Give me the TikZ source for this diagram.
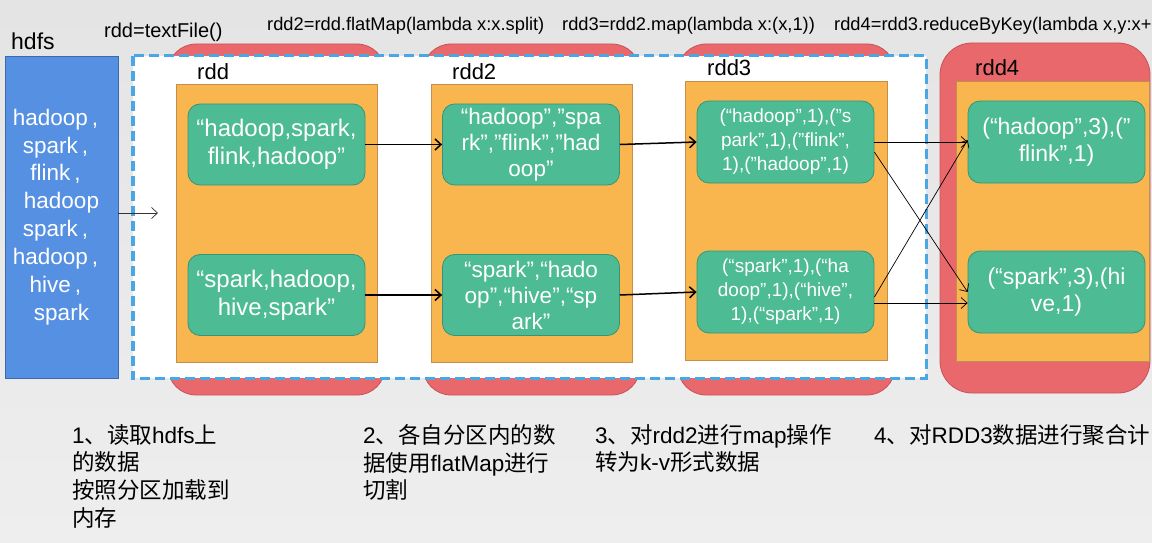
\documentclass[tikz,border=0pt]{standalone}
\usepackage{fontspec}
\setmainfont{Liberation Sans}
\newfontfamily\cjk{Noto Sans CJK SC}
\usetikzlibrary{arrows.meta}
\definecolor{bgtop}{RGB}{228,228,228}
\definecolor{bgbot}{RGB}{238,238,238}
\definecolor{hblue}{RGB}{86,144,226}
\definecolor{hblueb}{RGB}{60,105,175}
\definecolor{dblue}{RGB}{72,167,228}
\definecolor{pred}{RGB}{232,104,108}
\definecolor{predb}{RGB}{200,82,88}
\definecolor{porange}{RGB}{250,182,78}
\definecolor{porangeb}{RGB}{196,142,78}
\definecolor{pgreen}{RGB}{77,187,147}
\definecolor{pgreenb}{RGB}{56,148,116}
\newcommand{\fc}{\kern4pt,\kern12pt}
\newcommand{\zh}[1]{{\cjk #1}}
\tikzset{
  redbox/.style={draw=predb, fill=pred, line width=0.8pt, rounded corners=28pt, inner sep=0pt},
  orbox/.style={draw=porangeb, fill=porange, line width=0.8pt, inner sep=0pt, minimum width=201pt, minimum height=278pt},
  grbox/.style={draw=pgreenb, fill=pgreen, line width=0.8pt, rounded corners=12pt, inner sep=0pt,
     minimum width=177pt, minimum height=81pt, text=white, align=center},
  lbl/.style={anchor=west, inner sep=0pt, font=\fontsize{22}{26}\selectfont},
  toplbl/.style={anchor=west, inner sep=0pt, font=\fontsize{18.3}{22}\selectfont},
  note/.style={anchor=north west, inner sep=0pt, align=left, font=\fontsize{22.5}{27.8}\selectfont},
  bigarr/.style={line width=1.5pt, -{Straight Barb[length=6pt,width=11pt]}},
  thinarr/.style={line width=0.7pt, -{Straight Barb[length=6pt,width=11pt]}},
  memline/.style={draw=dblue, line width=3.4pt, dash pattern=on 10pt off 5pt},
}
\begin{document}
\begin{tikzpicture}[x=1pt,y=-1pt]
\useasboundingbox (0,0) rectangle (1152,543);
\clip (0,0) rectangle (1152,543);
\shade[top color=bgtop, bottom color=bgbot] (0,0) rectangle (1152,543);

% red partition shapes
\node[redbox, minimum width=217pt, minimum height=351pt] (redA) at (276.5,219.5) {};
\node[redbox, minimum width=217pt, minimum height=351pt] (redB) at (531.5,219.5) {};
\node[redbox, minimum width=217pt, minimum height=351pt] (redC) at (786.5,219.5) {};
\node[redbox, minimum width=210pt, minimum height=350pt, rounded corners=32pt] (redD) at (1045,218) {};

% dashed memory region
\node[fill=white, inner sep=0pt, minimum width=793pt, minimum height=322pt] (mem) at (529.5,217) {};
\draw[memline] (mem.north west) rectangle (mem.south east);

% hdfs
\node[anchor=west, inner sep=0pt, font=\fontsize{23}{26}\selectfont] (hdfslbl) at (11,41) {hdfs};
\node[draw=hblueb, fill=hblue, line width=0.8pt, inner sep=0pt, minimum width=113pt, minimum height=322pt,
      text=white, align=center, font=\fontsize{22.5}{27.9}\selectfont] (hdfs) at (61.5,217)
  {hadoop\fc\\spark\fc\\flink\fc\\hadoop\\spark\fc\\hadoop\fc\\hive\fc\\spark};

% orange rdd boxes
\node[orbox] (oA) at (276.5,223) {};
\node[orbox] (oB) at (531.5,223) {};
\node[orbox, minimum width=202pt, minimum height=279pt] (oC) at (786,220.5) {};
\node[orbox, minimum width=193pt, minimum height=280pt] (oD) at (1052.5,221) {};

\node[lbl] (lA) at (197,72) {rdd};
\node[lbl] (lB) at (452,72) {rdd2};
\node[lbl] (lC) at (707,68) {rdd3};
\node[lbl] (lD) at (975,68) {rdd4};

% green partitions
\node[grbox, font=\fontsize{24}{28}\selectfont] (a1) at (276.5,144.5) {“hadoop,spark,\\flink,hadoop”};
\node[grbox, font=\fontsize{24}{28}\selectfont] (a2) at (276.5,295) {“spark,hadoop,\\hive,spark”};
\node[grbox, font=\fontsize{22.5}{26}\selectfont] (b1) at (531,144.5) {“hadoop”,”spa\\rk”,”flink”,”had\\oop”};
\node[grbox, font=\fontsize{22.5}{26}\selectfont] (b2) at (531,295) {“spark”,“hado\\op”,“hive”,“sp\\ark”};
\node[grbox, minimum height=82pt, font=\fontsize{19}{24}\selectfont] (c1) at (785.5,142) {(“hadoop”,1),(”s\\park”,1),(”flink”,\\1),(”hadoop”,1)};
\node[grbox, minimum height=82pt, font=\fontsize{19}{24}\selectfont] (c2) at (785.5,292) {(“spark”,1),(“ha\\doop”,1),(“hive”,\\1),(“spark”,1)};
\node[grbox, minimum width=177pt, minimum height=82pt, font=\fontsize{23}{27}\selectfont] (d1) at (1056.5,142) {(“hadoop”,3),(”\\flink”,1)};
\node[grbox, minimum width=177pt, minimum height=82pt, font=\fontsize{23}{27}\selectfont] (d2) at (1056.5,292) {(“spark”,3),(hi\\ve,1)};

% connectors
\coordinate (hin) at (158,213);
\draw[thinarr, draw=black!80] (hdfs.east |- hin) -- (hin);
\draw[bigarr] (a1.east) -- (b1.west);
\draw[bigarr] (a2.east) -- (b2.west);
\draw[bigarr] (b1.east) -- (c1.west);
\draw[bigarr] (b2.east) -- (c2.west);
\draw[thinarr] (c1.east) -- (d1.west);
\draw[thinarr] ([yshift=-10pt]c1.east) -- (d2.west);
\draw[thinarr] ([yshift=-5pt]c2.east) -- ([yshift=2pt]d1.west);
\draw[thinarr] ([yshift=-11pt]c2.east) -- ([yshift=-11pt]d2.west);

% top operation labels
\node[anchor=west, inner sep=0pt, font=\fontsize{20}{24}\selectfont] (t1) at (104,32) {rdd=textFile()};
\node[toplbl] (t2) at (267,26) {rdd2=rdd.flatMap(lambda x:x.split)};
\node[toplbl] (t3) at (562,26) {rdd3=rdd2.map(lambda x:(x,1))};
\node[toplbl] (t4) at (834,26) {rdd4=rdd3.reduceByKey(lambda x,y:x+};

% step notes
\node[note] (n1) at (72,424) {1\zh{、读取}hdfs\zh{上}\\\zh{的数据}\\\zh{按照分区加载到}\\\zh{内存}};
\node[note] (n2) at (363,424) {2\zh{、各自分区内的数}\\\zh{据使用}flatMap\zh{进行}\\\zh{切割}};
\node[note] (n3) at (595,424) {3\zh{、对}rdd2\zh{进行}map\zh{操作}\\\zh{转为}k-v\zh{形式数据}};
\node[note] (n4) at (874,424) {4\zh{、对}RDD3\zh{数据进行聚合计}};
\end{tikzpicture}
\end{document}
